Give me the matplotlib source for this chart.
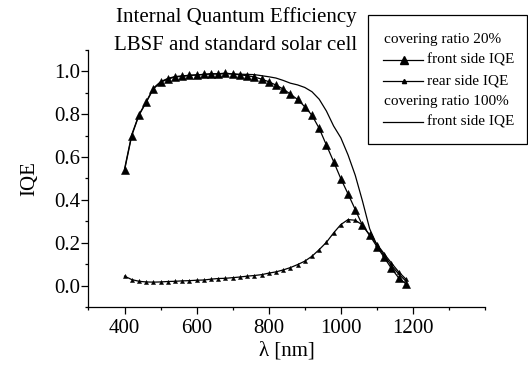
import numpy as np
import matplotlib
matplotlib.use("Agg")
import matplotlib.pyplot as plt
from matplotlib.lines import Line2D
from matplotlib.patches import Rectangle
from matplotlib.ticker import MultipleLocator, FormatStrFormatter

plt.rcParams['font.family'] = ['Liberation Serif', 'DejaVu Serif']

# wavelength grid (nm)
wl = np.arange(400, 1181, 20)

# covering ratio 20%, front side IQE
front20 = [0.538, 0.700, 0.795, 0.855, 0.918, 0.949, 0.964, 0.974, 0.977, 0.981,
           0.983, 0.986, 0.989, 0.989, 0.992, 0.988, 0.984, 0.980, 0.974, 0.964,
           0.952, 0.936, 0.918, 0.894, 0.869, 0.835, 0.795, 0.734, 0.656, 0.579,
           0.499, 0.428, 0.355, 0.281, 0.235, 0.182, 0.132, 0.081, 0.037, 0.009]

# covering ratio 20%, rear side IQE
rear20 = [0.044, 0.028, 0.020, 0.017, 0.016, 0.017, 0.019, 0.020, 0.022, 0.023,
          0.025, 0.026, 0.030, 0.033, 0.034, 0.037, 0.040, 0.044, 0.047, 0.051,
          0.058, 0.064, 0.073, 0.084, 0.098, 0.114, 0.137, 0.168, 0.202, 0.246,
          0.285, 0.308, 0.305, 0.283, 0.236, 0.194, 0.149, 0.106, 0.065, 0.031]

# covering ratio 100%, front side IQE
front100 = [0.545, 0.705, 0.798, 0.858, 0.922, 0.952, 0.967, 0.976, 0.979, 0.982,
            0.984, 0.986, 0.988, 0.988, 0.989, 0.988, 0.987, 0.986, 0.985, 0.980,
            0.975, 0.969, 0.958, 0.945, 0.937, 0.925, 0.905, 0.870, 0.815, 0.745,
            0.690, 0.610, 0.515, 0.395, 0.265, 0.190, 0.140, 0.095, 0.055, 0.022]

fig = plt.figure(figsize=(5.28, 3.67), dpi=100)
ax = fig.add_axes([0.1676, 0.1635, 0.751, 0.7003])

ax.plot(wl, front100, color='black', lw=0.9)
ax.plot(wl, front20, color='black', lw=0.9, marker='^', markersize=6,
        markerfacecolor='black', markeredgecolor='black', markeredgewidth=0.4)
ax.plot(wl, rear20, color='black', lw=0.9, marker='^', markersize=3,
        markerfacecolor='black', markeredgecolor='black', markeredgewidth=0.3)

ax.set_xlim(300, 1400)
ax.set_ylim(-0.1, 1.1)
ax.set_xticks([400, 600, 800, 1000, 1200])
ax.set_yticks([0.0, 0.2, 0.4, 0.6, 0.8, 1.0])
ax.xaxis.set_minor_locator(MultipleLocator(100))
ax.yaxis.set_minor_locator(MultipleLocator(0.1))
ax.yaxis.set_major_formatter(FormatStrFormatter('%.1f'))
ax.tick_params(which='major', direction='out', length=5, width=0.9, labelsize=15)
ax.tick_params(axis='x', which='major', pad=4)
ax.tick_params(axis='y', which='major', pad=1)
ax.tick_params(which='minor', direction='out', length=2.5, width=0.9)
for s in ['top', 'right']:
    ax.spines[s].set_visible(False)
for s in ['left', 'bottom']:
    ax.spines[s].set_linewidth(0.9)

ax.set_xlabel('λ [nm]', fontsize=15, labelpad=2)
ax.set_ylabel('IQE', fontsize=15, labelpad=11)

fig.text(236 / 528, 1 - 17 / 367, 'Internal Quantum Efficiency', fontsize=15,
         ha='center', va='center')
fig.text(236 / 528, 1 - 46 / 367, 'LBSF and standard solar cell', fontsize=15,
         ha='center', va='center')

# legend box drawn in figure pixels
W, H = 528.0, 367.0
def fx(x):
    return x / W
def fy(y):
    return 1 - y / H

fig.add_artist(Rectangle((fx(368), fy(144)), fx(527) - fx(368), fy(15) - fy(144),
                         transform=fig.transFigure, fill=False, lw=0.9,
                         edgecolor='black'))
leg_fs = 11
fig.text(fx(384), fy(39), 'covering ratio 20%', fontsize=leg_fs, va='center')
fig.add_artist(Line2D([fx(383), fx(423)], [fy(60), fy(60)], transform=fig.transFigure,
                      color='black', lw=0.9))
fig.add_artist(Line2D([fx(404)], [fy(60)], transform=fig.transFigure, color='black',
                      marker='^', markersize=6))
fig.text(fx(427), fy(60), 'front side IQE', fontsize=leg_fs, va='center')
fig.add_artist(Line2D([fx(383), fx(423)], [fy(81), fy(81)], transform=fig.transFigure,
                      color='black', lw=0.9))
fig.add_artist(Line2D([fx(404)], [fy(81)], transform=fig.transFigure, color='black',
                      marker='^', markersize=3))
fig.text(fx(427), fy(81), 'rear side IQE', fontsize=leg_fs, va='center')
fig.text(fx(384), fy(102), 'covering ratio 100%', fontsize=leg_fs, va='center')
fig.add_artist(Line2D([fx(383), fx(423)], [fy(122), fy(122)], transform=fig.transFigure,
                      color='black', lw=0.9))
fig.text(fx(427), fy(122), 'front side IQE', fontsize=leg_fs, va='center')

fig.savefig('out.png', dpi=100)
